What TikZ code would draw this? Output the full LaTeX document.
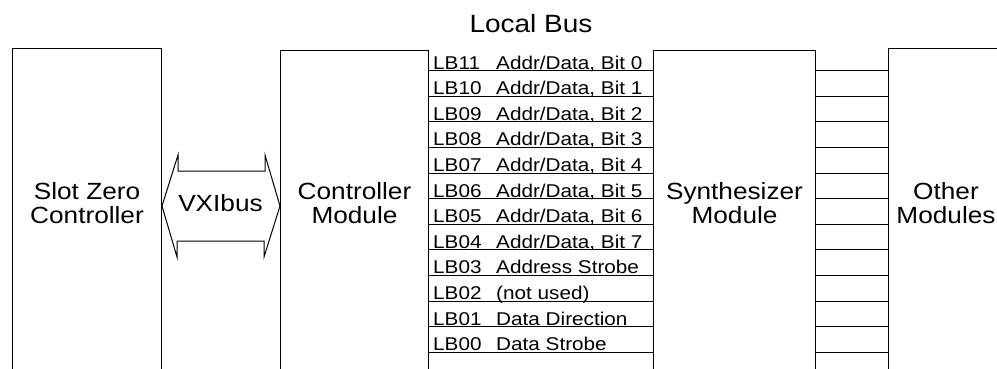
\documentclass[tikz,border=0pt]{standalone}
\usepackage{fontspec}
\setmainfont{Liberation Sans}[FakeStretch=1.12]
\usetikzlibrary{positioning}

\tikzset{
  box/.style={draw, line width=1pt, minimum height=400pt, anchor=north west, inner sep=0pt},
  big/.style={font=\fontsize{23.4}{23.5}\selectfont, align=center, inner sep=0pt},
  sig/.style={font=\fontsize{18.5}{20}\selectfont, anchor=base west, inner sep=0pt},
  wire/.style={line width=1pt},
}

\begin{document}
\begin{tikzpicture}[x=1pt,y=-1pt]
	\useasboundingbox (0,0) rectangle (997,369);
	\clip (0,0) rectangle (997,369);
	% modules, open at the bottom
	\node[box, minimum width=149pt] (szc) at (12,48) {};
	\node[box, minimum width=148pt] (ctl) at (280,50) {};
	\node[box, minimum width=162pt] (syn) at (653,50) {};
	\node[box, minimum width=200pt] (oth) at (888,48) {};
	\node[big] (szc-txt) at (szc.north |- 0,203) {Slot Zero\\Controller};
	\node[big] (ctl-txt) at (ctl.north |- 0,203) {Controller\\Module};
	\node[big] (syn-txt) at (syn.north |- 0,203) {Synthesizer\\Module};
	\node[big] (oth-txt) at (oth.north west |- 0,203) [xshift=58pt] {Other\\Modules};
	% VXIbus double arrow
	\node[big] (vxi) at (220.5,203) {VXIbus};
	\draw[wire] (szc.east |- 0,206) -- ++(16,-51) -- ++(0,16) -- ++(87,0) -- ++(0,-16)
		-- (ctl.west |- 0,206) -- ++(-16,51) -- ++(0,-16) -- ++(-87,0) -- ++(0,16) -- cycle;
	% local bus
	\node[big, font=\fontsize{25}{26}\selectfont, anchor=base] (lbus) at (531,33) {Local Bus};
	\node[sig] (lb11) at (433,69.1) {\makebox[63pt][l]{LB11}Addr/Data, Bit 0};
	\node[sig] (lb10) at (433,94.7) {\makebox[63pt][l]{LB10}Addr/Data, Bit 1};
	\node[sig] (lb09) at (433,120.3) {\makebox[63pt][l]{LB09}Addr/Data, Bit 2};
	\node[sig] (lb08) at (433,145.9) {\makebox[63pt][l]{LB08}Addr/Data, Bit 3};
	\node[sig] (lb07) at (433,171.5) {\makebox[63pt][l]{LB07}Addr/Data, Bit 4};
	\node[sig] (lb06) at (433,197.1) {\makebox[63pt][l]{LB06}Addr/Data, Bit 5};
	\node[sig] (lb05) at (433,222.7) {\makebox[63pt][l]{LB05}Addr/Data, Bit 6};
	\node[sig] (lb04) at (433,248.3) {\makebox[63pt][l]{LB04}Addr/Data, Bit 7};
	\node[sig] (lb03) at (433,273.9) {\makebox[63pt][l]{LB03}Address Strobe};
	\node[sig] (lb02) at (433,299.5) {\makebox[63pt][l]{LB02}(not used)};
	\node[sig] (lb01) at (433,325.1) {\makebox[63pt][l]{LB01}Data Direction};
	\node[sig] (lb00) at (433,350.7) {\makebox[63pt][l]{LB00}Data Strobe};
	\draw[wire] (ctl.east |- 0,70.7) -- (syn.west |- 0,70.7) (syn.east |- 0,70.7) -- (oth.west |- 0,70.7);
	\draw[wire] (ctl.east |- 0,96.3) -- (syn.west |- 0,96.3) (syn.east |- 0,96.3) -- (oth.west |- 0,96.3);
	\draw[wire] (ctl.east |- 0,121.9) -- (syn.west |- 0,121.9) (syn.east |- 0,121.9) -- (oth.west |- 0,121.9);
	\draw[wire] (ctl.east |- 0,147.5) -- (syn.west |- 0,147.5) (syn.east |- 0,147.5) -- (oth.west |- 0,147.5);
	\draw[wire] (ctl.east |- 0,173.1) -- (syn.west |- 0,173.1) (syn.east |- 0,173.1) -- (oth.west |- 0,173.1);
	\draw[wire] (ctl.east |- 0,198.7) -- (syn.west |- 0,198.7) (syn.east |- 0,198.7) -- (oth.west |- 0,198.7);
	\draw[wire] (ctl.east |- 0,224.3) -- (syn.west |- 0,224.3) (syn.east |- 0,224.3) -- (oth.west |- 0,224.3);
	\draw[wire] (ctl.east |- 0,249.9) -- (syn.west |- 0,249.9) (syn.east |- 0,249.9) -- (oth.west |- 0,249.9);
	\draw[wire] (ctl.east |- 0,275.5) -- (syn.west |- 0,275.5) (syn.east |- 0,275.5) -- (oth.west |- 0,275.5);
	\draw[wire] (ctl.east |- 0,301.1) -- (syn.west |- 0,301.1) (syn.east |- 0,301.1) -- (oth.west |- 0,301.1);
	\draw[wire] (ctl.east |- 0,326.7) -- (syn.west |- 0,326.7) (syn.east |- 0,326.7) -- (oth.west |- 0,326.7);
	\draw[wire] (ctl.east |- 0,352.3) -- (syn.west |- 0,352.3) (syn.east |- 0,352.3) -- (oth.west |- 0,352.3);
\end{tikzpicture}
\end{document}
